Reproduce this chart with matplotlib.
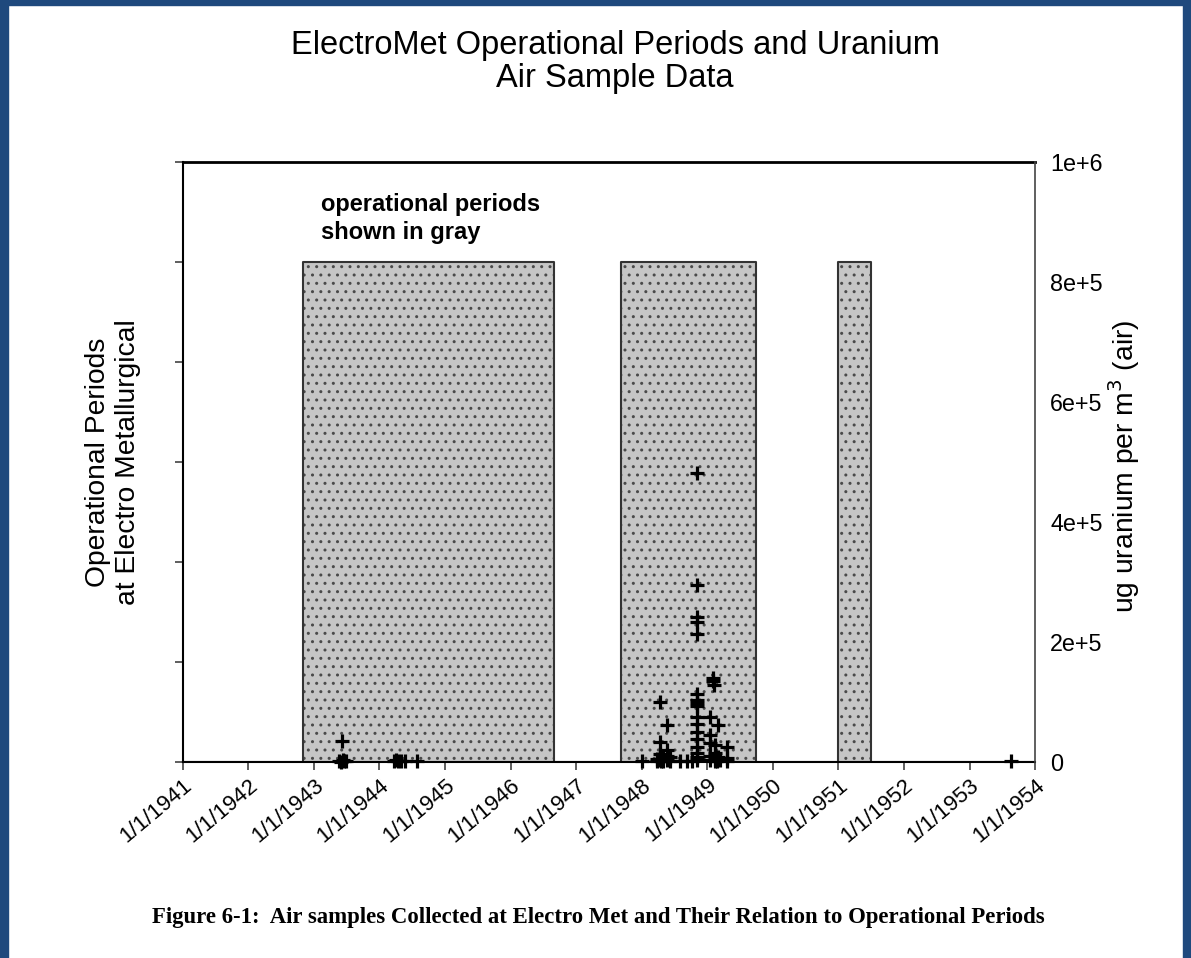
import matplotlib
matplotlib.use("Agg")
import matplotlib.pyplot as plt
import matplotlib.dates as mdates
from matplotlib.patches import Rectangle
from matplotlib.ticker import FuncFormatter, FixedLocator
import pandas as pd

# ---------------- data ----------------
period_start = ["1942-11-01", "1947-09-10", "1951-01-01"]
period_end = ["1946-09-01", "1949-10-01", "1951-07-01"]
op_level = 5  # on the 0..6 left scale

sample_dates = [
    "1943-06-08", "1943-05-20", "1943-06-01", "1943-06-10", "1943-06-20", "1943-06-28",
    "1944-03-20", "1944-04-01", "1944-04-15", "1944-04-28", "1944-05-22", "1944-07-26",
    "1948-01-02", "1948-03-25", "1948-03-28", "1948-04-12", "1948-04-12", "1948-04-14",
    "1948-04-10", "1948-04-16", "1948-04-28", "1948-05-01", "1948-05-22", "1948-05-20",
    "1948-05-24", "1948-05-22", "1948-06-08", "1948-06-06", "1948-08-03", "1948-09-09",
    "1948-10-08",
    "1948-11-07", "1948-11-07", "1948-11-07", "1948-11-07", "1948-11-07", "1948-11-07",
    "1948-11-07", "1948-11-07", "1948-11-07", "1948-11-07", "1948-11-07", "1948-11-07",
    "1948-11-07", "1948-11-07", "1948-11-07", "1948-11-07", "1948-11-07",
    "1949-01-15", "1949-01-15", "1949-01-16", "1949-01-14", "1949-01-15",
    "1949-02-03", "1949-02-06", "1949-02-04",
    "1949-02-14", "1949-02-12", "1949-02-14", "1949-02-10",
    "1949-02-27", "1949-02-27", "1949-02-25",
    "1949-03-14",
    "1949-04-20", "1949-04-20", "1949-04-22",
    "1953-08-20",
]
sample_ug = [
    35000, 2000, 0, 3000, 1000, 2000,
    2000, 4000, 1000, 2500, 1500, 1000,
    2000, 5000, 1000, 100000, 34000, 14000,
    4000, 1000, 8000, 2000, 62000, 20000,
    10000, 3000, 8000, 2000, 1000, 1000,
    2000,
    482000, 295000, 242000, 234000, 214000, 114000,
    104000, 98000, 93000, 75000, 64000, 50000,
    39000, 25000, 15000, 8000, 3000,
    75000, 45000, 32000, 10000, 3000,
    140000, 128000, 135000,
    28000, 15000, 5000, 1000,
    62000, 8000, 2000,
    3000,
    25000, 6000, 1000,
    2000,
]
right_ticks = [0, 200000, 400000, 600000, 800000, 1000000]
right_labels = ["0", "2e+5", "4e+5", "6e+5", "8e+5", "1e+6"]
x_start, x_end = "1941-01-01", "1954-01-01"

# ---------------- figure ----------------
W, H = 1191, 958
fig = plt.figure(figsize=(W / 100, H / 100), dpi=100)
plt.rcParams["font.family"] = ["Liberation Sans", "DejaVu Sans"]
plt.rcParams["hatch.linewidth"] = 1.0

blue = "#1f497d"
fig.patches.append(Rectangle((0, 0), 8 / W, 1, transform=fig.transFigure, color=blue, zorder=0))
fig.patches.append(Rectangle((0, 1 - 5 / H), 1, 5 / H, transform=fig.transFigure, color=blue, zorder=0))
fig.patches.append(Rectangle((1 - 8 / W, 0), 8 / W, 1, transform=fig.transFigure, color=blue, zorder=0))

L, R, T, B = 183, 1035, 162, 762
ax = fig.add_axes([L / W, 1 - B / H, (R - L) / W, (B - T) / H])

starts = pd.to_datetime(period_start)
ends = pd.to_datetime(period_end)
xs = pd.to_datetime(x_start)
xe = pd.to_datetime(x_end)

for s, e in zip(starts, ends):
    ax.fill_between([s, e], [op_level, op_level], 0, facecolor="#c6c6c6",
                    edgecolor="#4a4a4a", hatch="..", linewidth=0, zorder=1)

# step outline
step_x = [xs]
step_y = [0]
for s, e in zip(starts, ends):
    step_x += [s, s, e, e]
    step_y += [0, op_level, op_level, 0]
step_x.append(xe)
step_y.append(0)
ax.plot(step_x, step_y, color="#333333", lw=1.5, zorder=2)
ax.plot([xs, xe], [0, 0], color="black", lw=1.8, zorder=2)

ax.set_xlim(xs, xe)
ax.set_ylim(0, 6)
ax.yaxis.set_major_locator(FixedLocator(range(0, 7)))
ax.set_yticklabels([])
ax.xaxis.set_major_locator(mdates.YearLocator())
ax.xaxis.set_major_formatter(FuncFormatter(
    lambda v, p: (lambda d: f"{d.month}/{d.day}/{d.year}")(mdates.num2date(v))))
ax.tick_params(axis="y", direction="out", length=6, width=1.1, color="#333333")
ax.tick_params(axis="x", direction="out", length=6, width=1.1, color="#333333",
               labelsize=16, pad=3)
for lab in ax.get_xticklabels():
    lab.set_rotation(40)
    lab.set_ha("right")
    lab.set_va("top")
    lab.set_rotation_mode("anchor")

ax.spines["top"].set_linewidth(2.0)
ax.spines["top"].set_color("black")
ax.spines["left"].set_linewidth(1.5)
ax.spines["left"].set_color("black")
ax.spines["bottom"].set_linewidth(1.5)
ax.spines["right"].set_visible(False)

ax2 = ax.twinx()
ax2.set_ylim(0, 1000000)
ax2.set_yticks(right_ticks)
ax2.set_yticklabels(right_labels)
ax2.tick_params(axis="y", length=0, pad=11, labelsize=16.8)
for sp in ["top", "left", "bottom"]:
    ax2.spines[sp].set_visible(False)
ax2.spines["right"].set_color("#444444")
ax2.spines["right"].set_linewidth(1.2)

sd = pd.to_datetime(sample_dates)
ax2.plot(sd, sample_ug, linestyle="none", marker="+", markersize=9.5,
         markeredgewidth=2.3, color="black", clip_on=False, zorder=5)

# texts
fig.text(615 / W, 1 - 62 / H, "ElectroMet Operational Periods and Uranium\nAir Sample Data",
         ha="center", va="center", fontsize=23.5, linespacing=1.12)
fig.text(113 / W, 1 - 462 / H, "Operational Periods\nat Electro Metallurgical",
         ha="center", va="center", rotation=90, fontsize=20.3, linespacing=1.2,
         multialignment="center")
fig.text(1124 / W, 1 - 466 / H, "ug uranium per m$^3$ (air)",
         ha="center", va="center", rotation=90, fontsize=20.3)
fig.text(321 / W, 1 - 218.5 / H, "operational periods\nshown in gray",
         ha="left", va="center", fontsize=17, fontweight="bold", linespacing=1.27)
fig.text(598 / W, 1 - 918 / H,
         "Figure 6-1:  Air samples Collected at Electro Met and Their Relation to Operational Periods",
         ha="center", va="center", fontsize=16.4, fontweight="bold",
         family=["Liberation Serif", "DejaVu Serif"])

fig.savefig("out.png", dpi=100)
